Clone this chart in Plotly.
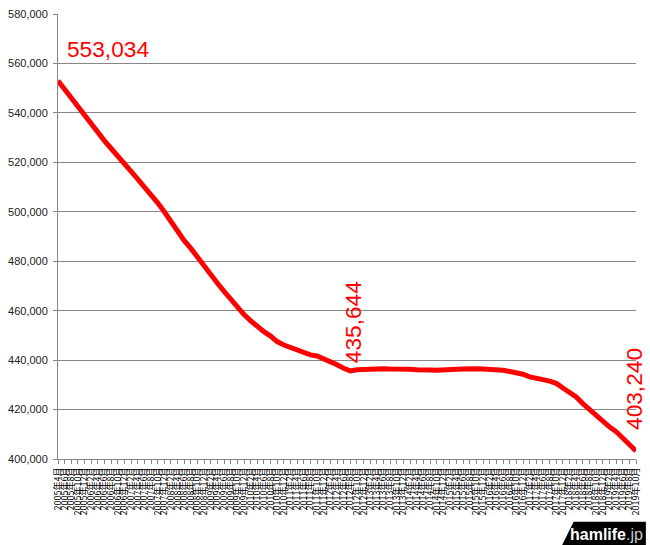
import plotly.graph_objects as go

# Category labels: every second month, 2005年4月 .. 2019年10月
months = []
yy, mm = 2005, 4
while (yy, mm) <= (2019, 10):
    months.append(f"{yy}年{mm}月")
    mm += 2
    if mm > 12:
        mm -= 12
        yy += 1

stations = [
    553034, 549500, 546000, 542500, 538500, 535000, 532000, 528700, 525600, 522300,
    519300, 516300, 513200, 510100, 507000, 503600, 500000, 495900, 491700, 488300,
    485200, 481500, 477700, 474600, 471100, 467800, 464400, 461100, 458400, 455900,
    453400, 451500, 449700, 447500, 446100, 445000, 443900, 443100, 442100, 441700,
    440600, 439600, 438100, 436700, 435644, 436100, 436300, 436400, 436300, 436500,
    436400, 436200, 436500, 436300, 436100, 436300, 436000, 435900, 436200, 436000,
    436300, 436400, 436200, 436500, 436400, 436300, 436000, 435900, 435400, 435100,
    434300, 433200, 432400, 432100, 431500, 430600, 428700, 426700, 425100, 422400,
    420000, 417500, 415200, 413000, 411100, 408400, 405700, 403240,
]

y_ticks = list(range(400000, 580001, 20000))
y_ticktext = [f"{v:,}" for v in y_ticks]

grid = "#878787"
red = "#FF0000"
font_main = "Liberation Sans, Arial, sans-serif"

fig = go.Figure()
fig.add_trace(go.Scatter(
    x=months, y=stations, mode="lines",
    line=dict(color=red, width=5),
    hoverinfo="skip", showlegend=False,
))

min_idx = stations.index(min(stations[:60]))
ann_font = dict(family=font_main, size=22.7, color=red)
fig.add_annotation(x=months[0], y=stations[0], text=f"{stations[0]:,}",
                   showarrow=False, xanchor="left", yanchor="middle",
                   xshift=7, yshift=32, font=ann_font)
fig.add_annotation(x=months[min_idx], y=stations[min_idx], text=f"{stations[min_idx]:,}",
                   showarrow=False, xanchor="center", yanchor="middle", textangle=-90,
                   xshift=3, yshift=49, font=ann_font)
fig.add_annotation(x=months[-1], y=stations[-1], text=f"{stations[-1]:,}",
                   showarrow=False, xanchor="center", yanchor="middle", textangle=-90,
                   xshift=-2, yshift=62, font=ann_font)

# hamlife.jp watermark
L, T, W, H = 58, 13, 584, 446
def px(x):
    return (x - L) / W
def py(y):
    return (T + H - y) / H
fig.add_shape(type="path", xref="paper", yref="paper",
              path=f"M {px(579)} {py(522)} L {px(652)} {py(522)} L {px(652)} {py(546)} L {px(567)} {py(546)} Z",
              fillcolor="black", line=dict(width=0), layer="above")
fig.add_annotation(xref="paper", yref="paper", x=px(612), y=py(535),
                   text="<b>hamlife</b><span style='color:#c8c8c8'>.jp</span>",
                   showarrow=False, xanchor="center", yanchor="middle",
                   font=dict(family=font_main, size=16, color="white"))

fig.update_layout(
    width=650, height=545,
    margin=dict(l=58, r=8, t=13, b=86),
    paper_bgcolor="white", plot_bgcolor="white",
    font=dict(family=font_main, color="#333333"),
)
fig.update_xaxes(
    type="category", range=[0, len(months) - 1],
    tickmode="linear", tick0=0, dtick=1, tickangle=-90,
    tickfont=dict(family="Noto Sans CJK JP, sans-serif", size=9, color="#000000"),
    showgrid=False, showline=True, linecolor=grid, linewidth=1,
    ticks="outside", ticklen=4, tickcolor=grid, zeroline=False,
)
fig.update_yaxes(
    range=[400000, 580000], tickmode="array", tickvals=y_ticks, ticktext=y_ticktext,
    tickfont=dict(family=font_main, size=11, color="#222222"),
    showgrid=True, gridcolor=grid, gridwidth=1,
    showline=True, linecolor=grid, linewidth=1,
    ticks="outside", ticklen=4, tickcolor=grid, zeroline=False,
    ticklabelstandoff=3,
)

fig.write_html(
    "out.html",
    config={"displayModeBar": False},
    post_script="document.body.style.margin='0';document.body.style.padding='0';",
)
